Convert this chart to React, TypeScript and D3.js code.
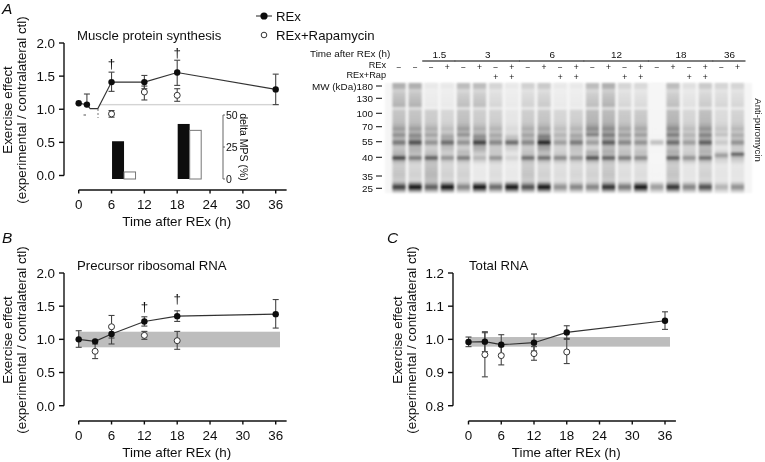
import React from "react";
import * as d3 from "d3";

type Row = { t: number; v: number; hi: number; lo: number };
const row = (t: number, v: number, hi: number, lo: number): Row => ({ t, v, hi, lo });

const xTicks = [0, 6, 12, 18, 24, 30, 36];
const yTicksAB = [0, 0.5, 1, 1.5, 2];
const yTicksC = [0.8, 0.9, 1, 1.1, 1.2];

// Panel A
const aLine: [number, number][] = [[0, 1.09], [1.5, 1.07], [2.1, 1.01], [3.5, 1.01], [6, 1.41], [12, 1.41], [18, 1.555], [36, 1.3]];
const aRex = [row(0, 1.09, 1.09, 1.09), row(1.5, 1.07, 1.23, 1.07), row(6, 1.41, 1.56, 1.27), row(12, 1.41, 1.51, 1.31), row(18, 1.555, 1.74, 1.36), row(36, 1.3, 1.53, 1.07)];
const aRap = [row(6, 0.93, 0.98, 0.88), row(12, 1.26, 1.35, 1.14), row(18, 1.21, 1.31, 1.12)];
const aDagger = [[6, 1.63], [18, 1.79]];
const deltaTicks = [0, 25, 50];
const deltaBars = [{ t: 6, rex: 29.5, rap: 5.5 }, { t: 18, rex: 43, rap: 38 }];

// Panel B
const bRex = [row(0, 1, 1.13, 0.88), row(3, 0.97, 0.97, 0.97), row(6, 1.08, 1.2, 0.93), row(12, 1.27, 1.34, 1.2), row(18, 1.35, 1.43, 1.27), row(36, 1.38, 1.6, 1.17)];
const bRap = [row(3, 0.82, 0.93, 0.71), row(6, 1.19, 1.36, 1.02), row(12, 1.06, 1.12, 1.0), row(18, 0.98, 1.12, 0.85)];
const bDagger = [[12, 1.43], [18, 1.55]];

// Panel C
const cRex = [row(0, 0.992, 1.007, 0.978), row(3, 0.993, 1.023, 0.963), row(6, 0.984, 1.014, 0.955), row(12, 0.99, 1.016, 0.965), row(18, 1.021, 1.041, 1.0), row(36, 1.056, 1.083, 1.03)];
const cRap = [row(3, 0.954, 1.02, 0.887), row(6, 0.951, 0.98, 0.923), row(12, 0.957, 0.978, 0.937), row(18, 0.962, 1.003, 0.927)];

// Blot
const groups = [
  { label: "1.5", from: 2, to: 3 },
  { label: "3", from: 4, to: 7 },
  { label: "6", from: 8, to: 11 },
  { label: "12", from: 12, to: 15 },
  { label: "18", from: 16, to: 19 },
  { label: "36", from: 20, to: 21 },
];
const rexSigns = ["−", "−", "−", "+", "−", "+", "−", "+", "−", "+", "−", "+", "−", "+", "−", "+", "−", "+", "−", "+", "−", "+"];
const rapSigns = ["", "", "", "", "", "", "+", "+", "", "", "+", "+", "", "", "+", "+", "", "", "+", "+", "", ""];
const mwLabels = [180, 130, 100, 70, 55, 40, 35, 25];
const mwPix = [86, 98.3, 113.3, 126.7, 141.7, 157.3, 176, 188.3];
const laneTop = [.35, .35, .1, .1, .3, .3, .2, .1, .22, .25, .1, .1, .3, .35, .2, .18, 0, .3, .15, .25, .2, .2];
const laneMid = [.35, .35, .3, .25, .35, .3, .28, .15, .3, .33, .25, .28, .4, .4, .32, .32, .02, .4, .25, .38, .22, .27];
const laneB55 = [.65, .8, .55, .7, .55, .85, .6, .7, .6, .95, .5, .65, .5, .75, .6, .55, .35, .7, .5, .75, .3, .55];
const laneB40 = [.85, .65, .75, .55, .65, .4, .55, .25, .7, .7, .6, .55, .8, .75, .65, .6, 0, .75, .55, .7, .5, .75];
const laneLow = [.25, .2, .3, .2, .2, .1, .15, .1, .25, .2, .15, .18, .2, .25, .15, .15, .02, .25, .12, .2, .12, .12];
const laneB25 = [.85, 1, .75, 1, .6, 1, .7, 1, .8, 1, .55, .6, .6, .9, .65, 1, .5, .9, .6, .8, .4, .55];
const laneB40Shift = [0, 0, 0, 0, 0, 0, 0, 0, 0, 0, 0, 0, 0, 0, 0, 0, 0, 0, 0, 0, -2.5, -4];

const FONT = "'Liberation Sans', Arial, sans-serif";
const INK = "#111";
const FS = 13.4;

const mwY = d3.scaleLinear().domain(mwLabels).range(mwPix);
const laneX = d3.scaleLinear().domain([0, 21]).range([399, 737.5]);
const shadeBase = d3.scaleLinear<string>().domain([0, 1]).range(["#f6f6f6", "#141414"]).clamp(true);
const shade = (v: number) => shadeBase(Math.pow(Math.max(v, 0), 1.35));

function laneStops(i: number) {
  const top = laneTop[i], mid = laneMid[i], b40 = laneB40[i], low = laneLow[i], b25 = laneB25[i];
  const b55 = laneB55[i];
  const s = laneB40Shift[i];
  const side = Math.min(1, mid / 0.2);
  const stops: [number, number][] = [
    [83, top * 1.2], [88, top * 1.2], [90, top * .7], [94, top * .9], [103, top * 1.1], [106, top * 1.2],
    [108.5, top * .4], [110.5, mid * .9], [122, mid], [126, mid * 1.2], [129, mid * 1.5], [132, mid * 1.1], [135, mid * 1.7],
    [137, b55 * .7 * side], [139, b55 * .55 * side], [141, b55 * .95], [143.5, b55], [146, b55 * .5 * side], [149, b55 * .5 * side], [152, mid * 1.1],
    [155 + s, (b40 * .35 + .1) * side], [157 + s, b40], [159 + s, b40 * .95], [161 + s, (b40 * .35 + .1) * side],
    [165, low * 1.1], [175, low * 1.3], [181, low * 1.1],
    [184, b25 * .65], [186, b25], [188, b25], [190.5, b25 * .6], [193, .1],
  ];
  return stops;
}

const Axes = ({ ox, axisY, x, y, ticks, fmt }: any) => (
  <g stroke={INK} fill="none" strokeWidth={1.4}>
    <line x1={ox} x2={ox} y1={y(ticks[0])} y2={y(ticks[ticks.length - 1])} />
    {ticks.map((t: number) => <line key={t} x1={ox - 5} x2={ox} y1={y(t)} y2={y(t)} />)}
    <line x1={x(0)} x2={x(38)} y1={axisY} y2={axisY} />
    {xTicks.map((t) => <line key={t} x1={x(t)} x2={x(t)} y1={axisY} y2={axisY + 3.5} />)}
    <g stroke="none" fill={INK} fontSize={FS} fontFamily={FONT}>
      {ticks.map((t: number) => <text key={t} x={ox - 9} y={y(t) + 4.8} textAnchor="end">{fmt(t)}</text>)}
      {xTicks.map((t) => <text key={t} x={x(t)} y={axisY + 19} textAnchor="middle">{t}</text>)}
      <text x={x(18) - 0.5} y={axisY + 36} textAnchor="middle">Time after REx (h)</text>
    </g>
  </g>
);

const YTitle = ({ dx, cy }: { dx: number; cy: number }) => (
  <g fill={INK} fontSize={FS} fontFamily={FONT} textAnchor="middle">
    <text transform={`translate(${dx + 11.5},${cy}) rotate(-90)`}>Exercise effect</text>
    <text transform={`translate(${dx + 26},${cy}) rotate(-90)`}>(experimental / contralateral ctl)</text>
  </g>
);

const Err = ({ data, x, y }: { data: Row[]; x: any; y: any }) => (
  <g stroke="#444" strokeWidth={1.1} fill="none">
    {data.filter((d) => d.hi !== d.lo).map((d, i) => (
      <g key={i}>
        <line x1={x(d.t)} x2={x(d.t)} y1={y(d.hi)} y2={y(d.lo)} />
        <line x1={x(d.t) - 3} x2={x(d.t) + 3} y1={y(d.hi)} y2={y(d.hi)} />
        <line x1={x(d.t) - 3} x2={x(d.t) + 3} y1={y(d.lo)} y2={y(d.lo)} />
      </g>
    ))}
  </g>
);

const Marks = ({ rex, rap, line, x, y, dagger }: any) => {
  const path = d3.line<[number, number]>().x((d) => x(d[0])).y((d) => y(d[1]));
  const pts: [number, number][] = line ?? rex.map((d: Row) => [d.t, d.v]);
  return (
    <g>
      <Err data={rap} x={x} y={y} />
      <Err data={rex} x={x} y={y} />
      <path d={path(pts) ?? ""} fill="none" stroke="#333" strokeWidth={1.1} />
      {rap.map((d: Row) => <circle key={d.t} cx={x(d.t)} cy={y(d.v)} r={3} fill="#fff" stroke="#333" strokeWidth={1} />)}
      {rex.map((d: Row) => <circle key={d.t} cx={x(d.t)} cy={y(d.v)} r={3.2} fill="#0a0a0a" />)}
      {(dagger ?? []).map((d: number[]) => (
        <text key={d[0]} x={x(d[0])} y={y(d[1])} textAnchor="middle" fontSize={FS} fontFamily={FONT} fill={INK}>†</text>
      ))}
    </g>
  );
};

export default function App() {
  const xA = d3.scaleLinear().domain([0, 36]).range([78.7, 275.7]);
  const yA = d3.scaleLinear().domain([0, 2]).range([175.5, 43]);
  const yB = d3.scaleLinear().domain([0, 2]).range([405.7, 273]);
  const xC = d3.scaleLinear().domain([0, 36]).range([468.5, 665]);
  const yC = d3.scaleLinear().domain([0.8, 1.2]).range([405.7, 273]);
  const yDelta = d3.scaleLinear().domain([0, 50]).range([179, 115]);
  const f1 = (v: number) => v.toFixed(1);
  const tx = { fontFamily: FONT, fill: INK };

  return (
    <svg width={765} height={462} style={{ position: "absolute", left: 0, top: 0, background: "#fff" }}>
      <defs>
        <filter id="soft" x="-10%" y="-5%" width="120%" height="110%">
          <feGaussianBlur stdDeviation="0.8" />
        </filter>
        <filter id="page" filterUnits="userSpaceOnUse" x={0} y={0} width={765} height={462}>
          <feGaussianBlur stdDeviation="0.35" />
        </filter>
        {laneB25.map((_, i) => (
          <linearGradient key={i} id={`lane${i}`} x1="0" x2="0" y1="83" y2="193" gradientUnits="userSpaceOnUse">
            {laneStops(i).map(([p, v], j) => (
              <stop key={j} offset={(p - 83) / 110} stopColor={shade(v)} />
            ))}
          </linearGradient>
        ))}
      </defs>

      <g filter="url(#page)">
        {/* Panel letters */}
        <g fontFamily={FONT} fontStyle="italic" fontSize={15.5} fill="#111">
          <text x={2} y={14}>A</text>
          <text x={2} y={243}>B</text>
          <text x={387} y={243}>C</text>
        </g>

        {/* Legend */}
        <line x1={256} x2={272} y1={16} y2={16} stroke="#333" strokeWidth={1.1} />
        <circle cx={264} cy={16} r={3.6} fill="#0a0a0a" />
        <circle cx={264} cy={35} r={2.8} fill="#fff" stroke="#333" strokeWidth={1} />
        <text x={276} y={21} fontSize={13.2} {...tx}>REx</text>
        <text x={276} y={40} fontSize={13.2} {...tx}>REx+Rapamycin</text>

        {/* Panel A */}
        <text x={77} y={39.5} fontSize={13.2} {...tx}>Muscle protein synthesis</text>
        <YTitle dx={0} cy={110} />
        <Axes ox={64} axisY={190} x={xA} y={yA} ticks={yTicksAB} fmt={f1} />
        <rect x={xA(3.8)} y={yA(1.08)} width={xA(36.6) - xA(3.8)} height={1.4} fill="#d4d4d4" />
        <line x1={83.5} x2={86} y1={115} y2={115} stroke="#555" strokeWidth={1} />
        <line x1={98} x2={98} y1={109} y2={118} stroke="#777" strokeWidth={1} strokeDasharray="2 2" />
        <Marks rex={aRex} rap={aRap} line={aLine} x={xA} y={yA} dagger={aDagger} />
        {deltaBars.map((b) => (
          <g key={b.t}>
            <rect x={xA(b.t) + 0.5} y={yDelta(b.rex)} width={12} height={yDelta(0) - yDelta(b.rex)} fill="#0a0a0a" />
            <rect x={xA(b.t) + 12.5} y={yDelta(b.rap)} width={11.5} height={yDelta(0) - yDelta(b.rap)} fill="#fff" stroke="#777" strokeWidth={1} />
          </g>
        ))}
        <g stroke="#555" strokeWidth={0.9}>
          <line x1={223} x2={223} y1={yDelta(50)} y2={yDelta(0)} />
          {deltaTicks.map((t) => <line key={t} x1={223} x2={225} y1={yDelta(t)} y2={yDelta(t)} />)}
        </g>
        {deltaTicks.map((t) => <text key={t} x={226} y={yDelta(t) + 3.5} fontSize={10.5} {...tx}>{t}</text>)}
        <text transform="translate(240,147) rotate(90)" fontSize={10.5} textAnchor="middle" {...tx}>delta MPS (%)</text>

        {/* Blot header */}
        <g fontSize={9.9} fontFamily={FONT} fill={INK}>
          <text x={310} y={57}>Time after REx (h)</text>
          <text x={386} y={67.5} textAnchor="end" fontSize={9.2}>REx</text>
          <text x={386} y={78} textAnchor="end" fontSize={9.2}>REx+Rap</text>
          <text x={312} y={90}>MW (kDa)</text>
          {groups.map((g) => (
            <g key={g.label}>
              <text x={(laneX(g.from) + laneX(g.to)) / 2} y={58} textAnchor="middle">{g.label}</text>
              <line x1={laneX(g.from) - 9} x2={laneX(g.to) + 8} y1={61} y2={61} stroke="#555" strokeWidth={1.4} />
            </g>
          ))}
          {rexSigns.map((s, i) => <text key={i} x={laneX(i)} y={70} textAnchor="middle" fontSize={8.5}>{s}</text>)}
          {rapSigns.map((s, i) => <text key={i} x={laneX(i)} y={80} textAnchor="middle" fontSize={8.5}>{s}</text>)}
          {mwLabels.map((m) => (
            <g key={m}>
              <text x={373} y={mwY(m) + 3.5} textAnchor="end">{m}</text>
              <line x1={376} x2={382} y1={mwY(m)} y2={mwY(m)} stroke="#222" strokeWidth={1.1} />
            </g>
          ))}
          <text transform="translate(755,130) rotate(90)" textAnchor="middle" fontSize={9.5}>Anti-puromycin</text>
        </g>

        {/* Blot */}
        <rect x={385} y={83} width={367} height={110} fill="#f5f5f5" filter="url(#soft)" />
        <g filter="url(#soft)">
          {laneB25.map((_, i) => (
            <rect key={i} x={laneX(i) - 6.6} y={83} width={13.2} height={110} fill={`url(#lane${i})`} />
          ))}
        </g>

        {/* Panel B */}
        <text x={77} y={270} fontSize={13.2} {...tx}>Precursor ribosomal RNA</text>
        <YTitle dx={0} cy={340} />
        <rect x={78} y={yB(1.115)} width={202} height={yB(0.88) - yB(1.115)} fill="#bdbdbd" />
        <Axes ox={64} axisY={421} x={xA} y={yB} ticks={yTicksAB} fmt={f1} />
        <Marks rex={bRex} rap={bRap} x={xA} y={yB} dagger={bDagger} />

        {/* Panel C */}
        <text x={469} y={270} fontSize={13.2} {...tx}>Total RNA</text>
        <YTitle dx={390} cy={340} />
        <rect x={468} y={yC(1.007)} width={202} height={yC(0.978) - yC(1.007)} fill="#bdbdbd" />
        <Axes ox={453} axisY={421} x={xC} y={yC} ticks={yTicksC} fmt={f1} />
        <Marks rex={cRex} rap={cRap} x={xC} y={yC} />
      </g>
    </svg>
  );
}
